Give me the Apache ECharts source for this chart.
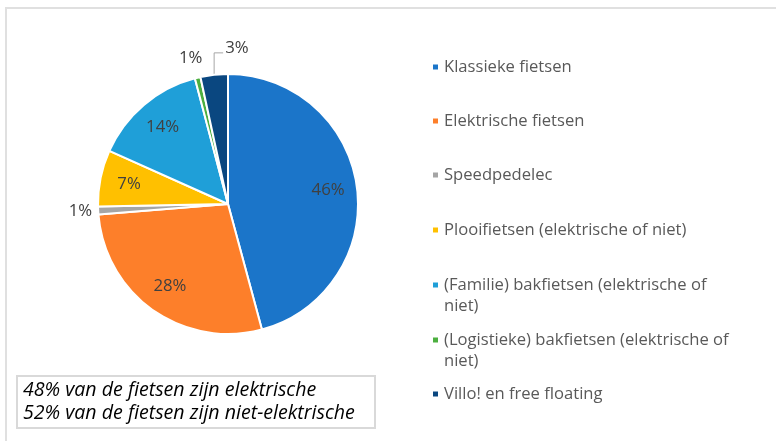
<!DOCTYPE html>
<html><head><meta charset="utf-8">
<script src="https://cdn.jsdelivr.net/npm/echarts@6/dist/echarts.min.js"></script>
<style>html,body{margin:0;padding:0;background:#fff}#c{width:776px;height:441px}</style>
</head><body><div id="c"></div>
<script>
const categories = ['Klassieke fietsen','Elektrische fietsen','Speedpedelec','Plooifietsen (elektrische of niet)','(Familie) bakfietsen (elektrische of niet)','(Logistieke) bakfietsen (elektrische of niet)','Villo! en free floating'];
const legendLabels = ['Klassieke fietsen','Elektrische fietsen','Speedpedelec','Plooifietsen (elektrische of niet)','(Familie) bakfietsen (elektrische of\nniet)','(Logistieke) bakfietsen (elektrische of\nniet)','Villo! en free floating'];
const values = [45.8, 27.9, 1.0, 7.0, 14.2, 0.7, 3.4];
const colors = ['#1B75C9','#FD7F2A','#A5A5A5','#FFC000','#1F9FD8','#4CAF3F','#0A4780'];
const noteLines = ['48% van de fietsen zijn elektrische','52% van de fietsen zijn niet-elektrische'];
const insideIdx = [0,1,3,4];
const FONT = '"Open Sans"';
const chart = echarts.init(document.getElementById('c'));
const legendCenters = [67,121,175,230,285,340,394];
const legends = categories.map((name,i)=>{
  const two = legendLabels[i].indexOf('\n')>=0;
  return {
    orient:'vertical', left:431, top: two ? legendCenters[i]-31.5 : legendCenters[i]-10.5, padding:0,
    data:[name], icon:'rect', itemWidth:7, itemHeight:7, itemGap:0, selectedMode:false,
    formatter: ()=> two ? '\n'+legendLabels[i] : legendLabels[i],
    textStyle:{color:'#595959', fontFamily:FONT, fontSize:16.6, lineHeight:21}
  };
});
chart.setOption({
  animation:false,
  color: colors,
  legend: legends,
  graphic:[
    {type:'rect', shape:{x:6,y:8,width:800,height:500}, style:{fill:'none', stroke:'#e0e0e0', lineWidth:2}, silent:true},
    {type:'rect', shape:{x:17,y:376,width:358,height:52}, style:{fill:'#fff', stroke:'#d9d9d9', lineWidth:2}},
    {type:'text', left:23, top:379, style:{text:noteLines.join('\n'), font:'italic 19.6px '+FONT, lineHeight:23, fill:'#000'}}
  ],
  series:[
    {
      type:'pie', center:[228,204], radius:[0,130], startAngle:90, clockwise:true,
      itemStyle:{borderColor:'#fff', borderWidth:2},
      label:{show:false, position:'outside', color:'#404040', fontFamily:FONT, fontSize:16.8,
        formatter:p=>Math.round(p.value)+'%'},
      labelLine:{show:false},
      emphasis:{disabled:true},
      labelLayout: function(p){
        const pts = p.labelLinePoints;
        if(!pts) return {};
        if(p.dataIndex===6){
          const top = [pts[0][0], pts[1][1]];
          const end = [pts[0][0]+9, pts[1][1]];
          return {x:end[0]+2, y:end[1]-5, align:'left', verticalAlign:'middle', labelLinePoints:[pts[0], top, end]};
        }
        if(p.dataIndex===5){
          return {x:pts[0][0]-7, y:pts[0][1]-19, align:'center', verticalAlign:'middle'};
        }
        return {};
      },
      data: categories.map((n,i)=>{
        const d={name:n, value:values[i]};
        if(i===2){ d.label={show:true}; d.labelLine={show:false,length:4,length2:2}; }
        if(i===5){ d.label={show:true}; d.labelLine={show:false,length:8,length2:0}; }
        if(i===6){ d.label={show:true}; d.labelLine={show:true,length:22,length2:8,lineStyle:{color:'#a6a6a6',width:1}}; }
        return d;
      })
    },
    {
      type:'pie', center:[228,204], radius:[66,130], startAngle:90, clockwise:true, silent:true,
      itemStyle:{color:'rgba(0,0,0,0)'},
      label:{show:true, position:'inside', color:'#404040', fontFamily:FONT, fontSize:16.8,
        formatter:p=> insideIdx.indexOf(p.dataIndex)>=0 ? Math.round(p.value)+'%' : ''},
      labelLine:{show:false},
      data: categories.map((n,i)=>({name:n+' ', value:values[i]}))
    }
  ]
});
</script></body></html>
